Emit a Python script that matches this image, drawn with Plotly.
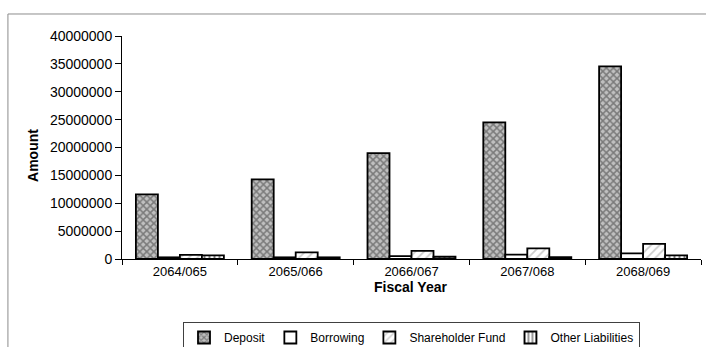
import plotly.graph_objects as go

# Balance sheet liabilities by fiscal year
fiscal_years = ["2064/065", "2065/066", "2066/067", "2067/068", "2068/069"]
deposit = [11600000, 14300000, 19000000, 24500000, 34550000]
borrowing = [300000, 300000, 500000, 800000, 1000000]
shareholder_fund = [750000, 1200000, 1450000, 1900000, 2700000]
other_liabilities = [650000, 300000, 400000, 350000, 650000]
y_ticks = [0, 5000000, 10000000, 15000000, 20000000, 25000000, 30000000, 35000000, 40000000]

FONT = "Liberation Sans, Arial, sans-serif"

series = [
    ("Deposit", deposit, dict(shape="x", fgcolor="#333333", bgcolor="#c0c0c0", size=5, solidity=0.5)),
    ("Borrowing", borrowing, dict(shape="", fgcolor="#ffffff", bgcolor="#ffffff")),
    ("Shareholder Fund", shareholder_fund, dict(shape="/", fgcolor="#9a9a9a", bgcolor="#ffffff", size=6, solidity=0.3)),
    ("Other Liabilities", other_liabilities, dict(shape="|", fgcolor="#000000", bgcolor="#ffffff", size=5, solidity=0.4)),
]

fig = go.Figure()
for name, vals, pat in series:
    fig.add_trace(go.Bar(
        name=name,
        x=fiscal_years,
        y=vals,
        marker=dict(color="#ffffff", line=dict(color="#000000", width=1.8), pattern=pat),
    ))

# outer chart-area frame
fig.add_shape(type="rect", xref="paper", yref="paper",
              x0=-0.197, x1=1.05, y0=-0.5, y1=1.0987,
              line=dict(color="#8c8c8c", width=1), fillcolor="rgba(0,0,0,0)", layer="below")

# axis titles
fig.add_annotation(text="<b>Amount</b>", xref="paper", yref="paper",
                   x=-0.1537, y=0.462, textangle=-90, showarrow=False,
                   xanchor="center", yanchor="middle",
                   font=dict(family=FONT, size=14))
fig.add_annotation(text="<b>Fiscal Year</b>", xref="paper", yref="paper",
                   x=0.499, y=-0.126, showarrow=False,
                   xanchor="center", yanchor="middle",
                   font=dict(family=FONT, size=14))

fig.update_layout(
    width=706, height=347,
    margin=dict(l=122, r=5, t=36, b=88, autoexpand=False),
    paper_bgcolor="#ffffff", plot_bgcolor="#ffffff",
    barmode="group", bargap=0.24, bargroupgap=0,
    font=dict(family=FONT, size=12, color="#000000"),
    showlegend=True,
    legend=dict(orientation="h", x=0.5, xanchor="center",
                yref="container", y=1 - 322 / 347, yanchor="top",
                bordercolor="#404040", borderwidth=1, itemwidth=30,
                font=dict(family=FONT, size=12), tracegroupgap=0,
                itemclick=False),
    xaxis=dict(
        type="category", showline=True, linecolor="#000000", linewidth=1,
        ticks="outside", tickson="boundaries", ticklen=5, tickcolor="#000000",
        tickfont=dict(family=FONT, size=13), automargin=False,
        showgrid=False, zeroline=False,
    ),
    yaxis=dict(
        range=[0, 40000000], tickvals=y_ticks, tickformat="d",
        showline=True, linecolor="#000000", linewidth=1,
        ticks="outside", ticklen=6, tickcolor="#000000",
        tickfont=dict(family=FONT, size=14), automargin=False,
        showgrid=False, zeroline=False,
    ),
)

fig.write_html("out.html")
